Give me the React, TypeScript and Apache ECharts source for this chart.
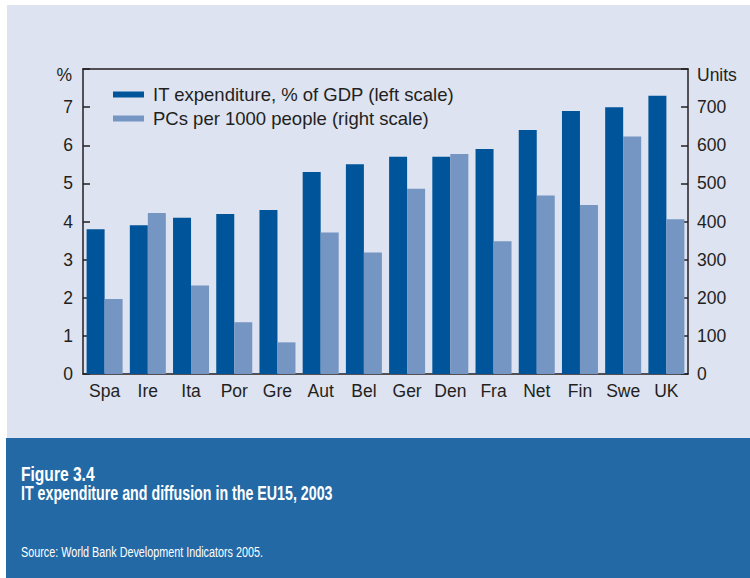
import React, { useEffect, useRef } from "react";
import * as echarts from "echarts";

const categories = ["Spa", "Ire", "Ita", "Por", "Gre", "Aut", "Bel", "Ger", "Den", "Fra", "Net", "Fin", "Swe", "UK"];
const itExpenditure = [3.8, 3.9, 4.1, 4.2, 4.3, 5.3, 5.5, 5.7, 5.7, 5.9, 6.4, 6.9, 7.0, 7.3];
const pcsPer1000 = [197, 422, 232, 136, 83, 371, 319, 486, 577, 348, 468, 443, 623, 406];
const seriesNames = ["IT expenditure, % of GDP (left scale)", "PCs per 1000 people (right scale)"];
const titleLine1 = "Figure 3.4";
const titleLine2 = "IT expenditure and diffusion in the EU15, 2003";
const sourceText = "Source: World Bank Development Indicators 2005.";

const DARK = "#00549a";
const LIGHT = "#7595c3";
const INK = "#231f20";
const FONT = "'Liberation Sans', Arial, sans-serif";

export default function App() {
  const ref = useRef<HTMLDivElement>(null);
  useEffect(() => {
    if (!ref.current) return;
    const chart = echarts.init(ref.current, undefined, { renderer: "svg" });
    chart.setOption({
      animation: false,
      backgroundColor: "#ffffff",
      textStyle: { fontFamily: FONT },
      graphic: [
        {
          type: "group",
          z: -10,
          children: [
            { type: "rect", shape: { x: 7, y: 5, width: 743, height: 433 }, style: { fill: "#dde3f0" } },
            { type: "rect", shape: { x: 6, y: 438, width: 744, height: 140 }, style: { fill: "#2369a6" } },
          ],
        },
        {
          type: "text",
          x: 72,
          y: 75,
          style: { text: "%", fill: INK, font: `17.5px ${FONT}`, textAlign: "right", textVerticalAlign: "middle" },
        },
        {
          type: "text",
          x: 697,
          y: 75,
          style: { text: "Units", fill: INK, font: `17.5px ${FONT}`, textAlign: "left", textVerticalAlign: "middle" },
        },
        {
          type: "text",
          x: 21,
          y: 474,
          scaleX: 0.8,
          style: { text: titleLine1, fill: "#ffffff", font: `bold 19.5px ${FONT}`, textAlign: "left", textVerticalAlign: "middle" },
        },
        {
          type: "text",
          x: 21,
          y: 494,
          scaleX: 0.73,
          style: { text: titleLine2, fill: "#ffffff", font: `bold 19.5px ${FONT}`, textAlign: "left", textVerticalAlign: "middle" },
        },
        {
          type: "text",
          x: 21,
          y: 552,
          scaleX: 0.72,
          style: { text: sourceText, fill: "#ffffff", font: `15px ${FONT}`, textAlign: "left", textVerticalAlign: "middle" },
        },
      ],
      legend: {
        orient: "vertical",
        left: 113,
        top: 85,
        padding: 0,
        itemWidth: 31,
        itemHeight: 6,
        itemGap: 5,
        icon: "rect",
        textStyle: { fontSize: 18.5, color: INK, lineHeight: 17, padding: [0, 0, 0, 4] },
        data: seriesNames,
      },
      grid: {
        left: 83,
        right: 62,
        top: 69,
        bottom: 204,
        show: true,
        backgroundColor: "#ffffff",
        borderColor: INK,
        borderWidth: 1.5,
      },
      xAxis: [
        {
          type: "category",
          data: categories,
          axisLine: { onZero: false, lineStyle: { color: INK, width: 1.5 } },
          axisTick: { inside: true, length: 8, interval: 0, lineStyle: { color: INK, width: 1.5 } },
          axisLabel: { fontSize: 17.5, color: INK, margin: 8, interval: 0 },
        },
        {
          type: "category",
          position: "top",
          data: categories,
          axisLine: { show: true, onZero: false, lineStyle: { color: INK, width: 1.5 } },
          axisTick: { show: false },
          axisLabel: { show: false },
        },
      ],
      yAxis: [
        {
          type: "value",
          min: 0,
          max: 8,
          interval: 1,
          splitLine: { show: false },
          axisLine: { show: true, lineStyle: { color: INK, width: 1.5 } },
          axisTick: { show: true, inside: true, length: 7, lineStyle: { color: INK, width: 1.5 } },
          axisLabel: { fontSize: 17.5, color: INK, margin: 10, formatter: (v: number) => (v === 8 ? "" : String(v)) },
        },
        {
          type: "value",
          min: 0,
          max: 800,
          interval: 100,
          splitLine: { show: false },
          axisLine: { show: true, lineStyle: { color: INK, width: 1.5 } },
          axisTick: { show: true, inside: true, length: 7, lineStyle: { color: INK, width: 1.5 } },
          axisLabel: { fontSize: 17.5, color: INK, margin: 9, formatter: (v: number) => (v === 800 ? "" : String(v)) },
        },
      ],
      series: [
        {
          name: seriesNames[0],
          type: "bar",
          xAxisIndex: 0,
          yAxisIndex: 0,
          data: itExpenditure,
          barWidth: 18,
          barGap: "0%",
          itemStyle: { color: DARK },
        },
        {
          name: seriesNames[1],
          type: "bar",
          xAxisIndex: 0,
          yAxisIndex: 1,
          data: pcsPer1000,
          barWidth: 18,
          barGap: "0%",
          itemStyle: { color: LIGHT },
        },
      ],
    });
    return () => chart.dispose();
  }, []);
  return <div ref={ref} style={{ position: "fixed", left: 0, top: 0, width: 750, height: 578 }} />;
}
